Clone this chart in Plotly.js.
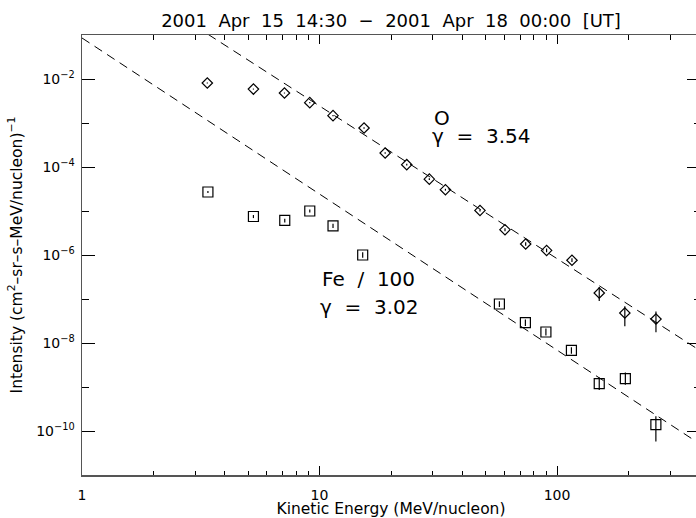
<!DOCTYPE html>
<html>
<head>
<meta charset="utf-8">
<script src="https://cdn.plot.ly/plotly-3.0.1.min.js"></script>
<style>
html,body{margin:0;padding:0;overflow:hidden;background:#fff;width:696px;height:518px;}
#chart{width:704px;height:518px;}
</style>
</head>
<body>
<div id="chart"></div>
<script>
// ---- Data ----
var O_E = [3.37, 5.27, 7.12, 9.1, 11.4, 15.4, 18.9, 23.3, 29.0, 33.9, 47.4, 60.4, 73.8, 90.4, 115.6, 150.6, 193, 261];
var O_I = [8.1e-3, 5.9e-3, 4.8e-3, 2.9e-3, 1.47e-3, 7.7e-4, 2.08e-4, 1.13e-4, 5.3e-5, 3.05e-5, 1.03e-5, 3.76e-6, 1.78e-6, 1.27e-6, 7.6e-7, 1.37e-7, 4.8e-8, 3.5e-8];
var O_errPlus  = [2e-4, 1.5e-4, 1.2e-4, 1e-4, 5e-5, 3e-5, 8e-6, 5e-6, 2.5e-6, 1.5e-6, 6e-7, 3e-7, 1.8e-7, 1.3e-7, 8e-8, 5.0e-8, 2.0e-8, 1.7e-8];
var O_errMinus = [2e-4, 1.5e-4, 1.2e-4, 1e-4, 5e-5, 3e-5, 8e-6, 5e-6, 2.5e-6, 1.5e-6, 6e-7, 3e-7, 1.6e-7, 1.2e-7, 7e-8, 4.7e-8, 2.4e-8, 1.75e-8];

var Fe_E = [3.39, 5.27, 7.14, 9.1, 11.4, 15.2, 57.2, 73.6, 89.8, 115, 150.6, 194, 260.8];
var Fe_I = [2.7e-5, 7.5e-6, 6.1e-6, 1.0e-5, 4.6e-6, 1.0e-6, 7.7e-8, 2.9e-8, 1.78e-8, 6.8e-9, 1.19e-9, 1.55e-9, 1.39e-10];
var Fe_errPlus  = [1.5e-6, 6e-7, 6e-7, 8e-7, 5e-7, 1.5e-7, 1.2e-8, 5e-9, 3.5e-9, 1.2e-9, 4.6e-10, 5.8e-10, 7.6e-11];
var Fe_errMinus = [1.5e-6, 6e-7, 6e-7, 8e-7, 5e-7, 1.3e-7, 1.1e-8, 4.5e-9, 3e-9, 1.1e-9, 3.3e-10, 4.2e-10, 8.1e-11];

// Power-law fit lines (endpoints)
var fitO_E = [1, 400];
var fitO_I = [7.19, 6.73e-9];
var fitFe_E = [1, 400];
var fitFe_I = [0.0855, 5.05e-11];

var gammaO = '3.54';
var gammaFe = '3.02';

var xMajor = [1, 10, 100];
var xMajorText = ['1', '10', '100'];
var xMinor = [2,3,4,5,6,7,8,9,20,30,40,50,60,70,80,90,200,300,400];
var yMajor = [1e-10, 1e-8, 1e-6, 1e-4, 1e-2];
var yMajorText = ['10<sup>\u221210</sup>', '10<sup>\u22128</sup>', '10<sup>\u22126</sup>', '10<sup>\u22124</sup>', '10<sup>\u22122</sup>'];
var yMinor = [1e-11,1e-9,1e-7,1e-5,1e-3,1e-1];

var FONT = 'DejaVu Sans ExtraLight, DejaVu Sans, Liberation Sans, sans-serif';
var S = '\u00a0\u00a0';

var traces = [
  {x: fitO_E, y: fitO_I, mode: 'lines', line: {color: '#000', width: 1, dash: '9px,6px'}, hoverinfo: 'skip'},
  {x: fitFe_E, y: fitFe_I, mode: 'lines', line: {color: '#000', width: 1, dash: '9px,6px'}, hoverinfo: 'skip'},
  {x: O_E, y: O_I, mode: 'markers', name: 'O',
   marker: {symbol: 'diamond-open', size: 8, color: '#000', line: {width: 1.2, color: '#000'}},
   error_y: {type: 'data', symmetric: false, array: O_errPlus, arrayminus: O_errMinus, color: '#000', thickness: 1.2, width: 0}},
  {x: Fe_E, y: Fe_I, mode: 'markers', name: 'Fe / 100',
   marker: {symbol: 'square-open', size: 10, color: '#000', line: {width: 1.2, color: '#000'}},
   error_y: {type: 'data', symmetric: false, array: Fe_errPlus, arrayminus: Fe_errMinus, color: '#000', thickness: 1.2, width: 0}}
];

var layout = {
  width: 704, height: 518,
  margin: {l: 82, r: 4, t: 35, b: 43},
  paper_bgcolor: '#fff', plot_bgcolor: '#fff',
  showlegend: false,
  font: {family: FONT, color: '#000', size: 13},
  title: {text: '2001' + S + 'Apr' + S + '15' + S + '14:30' + S + '\u2212' + S + '2001' + S + 'Apr' + S + '18' + S + '00:00' + S + '[UT]',
          font: {family: FONT, size: 18, color: '#000'},
          x: 0.5, xref: 'paper', y: 1 - 21/518, yref: 'container', yanchor: 'middle'},
  xaxis: {
    type: 'log', range: [0, Math.log10(400)],
    tickmode: 'array', tickvals: xMajor, ticktext: xMajorText,
    ticks: 'inside', ticklen: 9, tickwidth: 1, tickcolor: '#000',
    showline: true, linecolor: '#555', linewidth: 1.5, mirror: 'ticks',
    showgrid: false, zeroline: false,
    tickfont: {family: FONT, size: 14, color: '#000'},
    ticklabelstandoff: 7,
    minor: {tickvals: xMinor, ticks: 'inside', ticklen: 4.5, tickwidth: 1, tickcolor: '#000', showgrid: false},
    title: {text: 'Kinetic Energy (MeV/nucleon)', font: {family: FONT, size: 15.5, color: '#000'}, standoff: 2}
  },
  yaxis: {
    type: 'log', range: [-11, -1],
    tickmode: 'array', tickvals: yMajor, ticktext: yMajorText,
    ticks: 'inside', ticklen: 13, tickwidth: 1, tickcolor: '#000',
    showline: true, linecolor: '#555', linewidth: 1.5, mirror: 'ticks',
    showgrid: false, zeroline: false,
    tickfont: {family: FONT, size: 14, color: '#000'},
    ticklabelstandoff: 3,
    minor: {tickvals: yMinor, ticks: 'inside', ticklen: 6.5, tickwidth: 1, tickcolor: '#000', showgrid: false},
    title: {text: 'Intensity (cm<sup>2</sup>\u2013sr\u2013s\u2013MeV/nucleon)<sup>\u22121</sup>', font: {family: FONT, size: 15.5, color: '#000'}, standoff: 10}
  },
  annotations: [
    {text: 'O', xref: 'paper', yref: 'paper', x: 0.566, y: 0.811, xanchor: 'left', yanchor: 'middle', showarrow: false, font: {family: FONT, size: 20, color: '#000'}},
    {text: '\u03b3' + S + '=' + S + gammaO, xref: 'paper', yref: 'paper', x: 0.563, y: 0.7705, xanchor: 'left', yanchor: 'middle', showarrow: false, font: {family: FONT, size: 20, color: '#000'}},
    {text: 'Fe' + S + '/' + S + '100', xref: 'paper', yref: 'paper', x: 0.3855, y: 0.4455, xanchor: 'left', yanchor: 'middle', showarrow: false, font: {family: FONT, size: 20, color: '#000'}},
    {text: '\u03b3' + S + '=' + S + gammaFe, xref: 'paper', yref: 'paper', x: 0.3825, y: 0.381, xanchor: 'left', yanchor: 'middle', showarrow: false, font: {family: FONT, size: 20, color: '#000'}}
  ]
};

Plotly.newPlot('chart', traces, layout, {displayModeBar: false, staticPlot: true});
</script>
</body>
</html>
